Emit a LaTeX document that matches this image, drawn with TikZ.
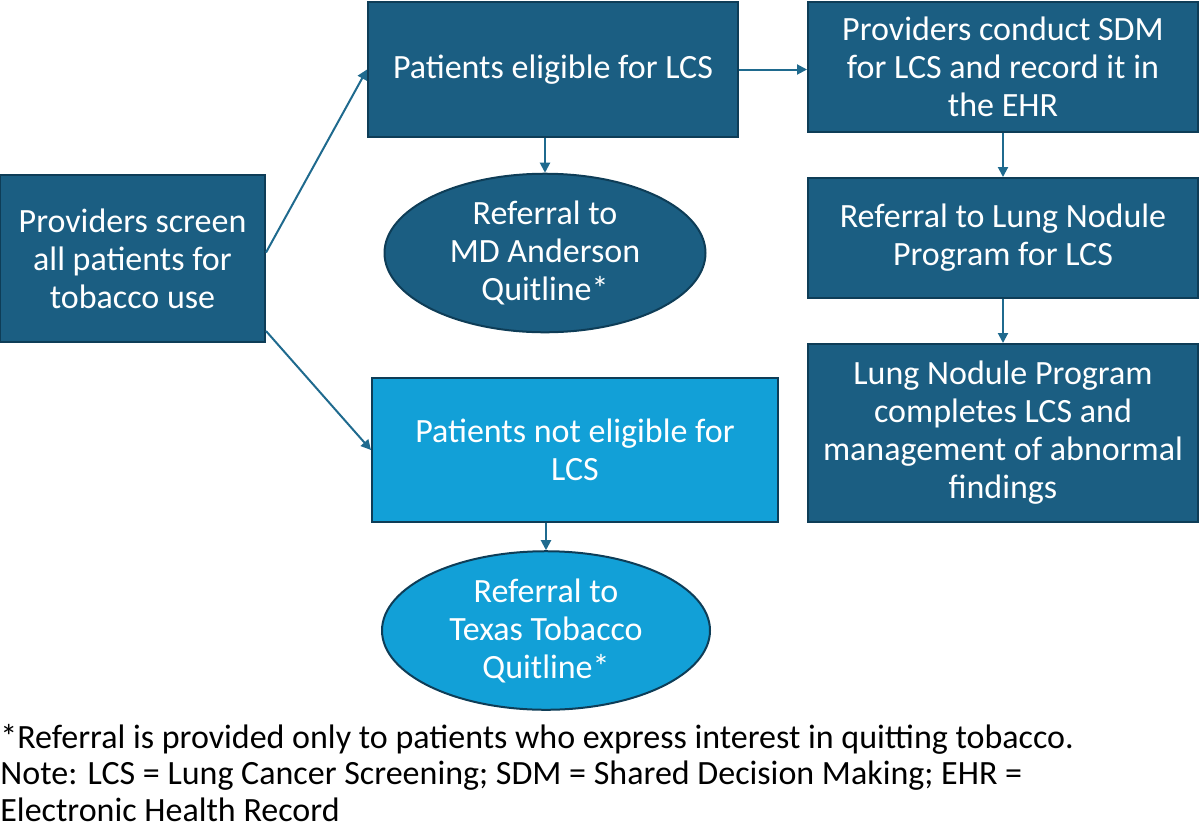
\documentclass[tikz,border=0pt]{standalone}
\usepackage{fontspec}
\setmainfont{Carlito}
\usetikzlibrary{arrows.meta,shapes.geometric}
\definecolor{DarkBox}  {HTML}{1B5E82}
\definecolor{DarkEdge} {HTML}{0E3D57}
\definecolor{LightBox} {HTML}{12A0D7}
\definecolor{FlowArrow}{HTML}{1F6A8E}

\begin{document}
\begin{tikzpicture}[x=0.5pt,y=-0.5pt,
    every node/.style={font=\fontsize{17}{19}\selectfont},
    darkbox/.style={draw=DarkEdge,fill=DarkBox,line width=1pt,text=white,align=center,inner sep=2pt},
    lightbox/.style={darkbox,fill=LightBox},
    darkoval/.style={darkbox,ellipse},
    lightoval/.style={lightbox,ellipse},
    flow/.style={draw=FlowArrow,line width=1pt,-{Triangle[length=5pt,width=5pt]}}]
  \useasboundingbox (0,0) rectangle (1200,831);
  % left column
  \node[darkbox,minimum width=132.5pt,minimum height=83.5pt] (screen) at (132.5,258.5)
    {Providers screen\\all patients for\\tobacco use};
  % middle column
  \node[darkbox,minimum width=185pt,minimum height=67.5pt] (eligible) at (553,69.5)
    {Patients eligible for LCS};
  \node[darkoval,minimum width=160.5pt,minimum height=77pt] (mdquit) at (545,253)
    {Referral to\\MD Anderson\\Quitline*};
  \node[lightbox,minimum width=203pt,minimum height=72pt] (noteligible) at (575,450)
    {Patients not eligible for\\LCS};
  \node[lightoval,minimum width=164pt,minimum height=77.5pt] (txquit) at (546,630.5)
    {Referral to\\Texas Tobacco\\Quitline*};
  % right column
  \node[darkbox,minimum width=195pt,minimum height=65pt] (sdm) at (1003,67)
    {Providers conduct SDM\\for LCS and record it in\\the EHR};
  \node[darkbox,minimum width=195pt,minimum height=60pt] (nodule) at (1003,238)
    {Referral to Lung Nodule\\Program for LCS};
  \node[darkbox,minimum width=195pt,minimum height=89pt] (complete) at (1003,433)
    {Lung Nodule Program\\completes LCS and\\management of abnormal\\findings};
  % footnote
  \node[anchor=north west,align=left,inner sep=0pt,font=\fontsize{17}{18.2}\selectfont] (note) at (0,724)
    {*Referral is provided only to patients who express interest in quitting tobacco.\\
     Note: LCS = Lung Cancer Screening; SDM = Shared Decision Making; EHR =\\
     Electronic Health Record};
  % connectors
  \draw[flow] ([yshift=3pt]screen.east) -- (eligible.west);
  \draw[flow] ([yshift=6pt]screen.south east) -- (noteligible.west);
  \draw[flow] (eligible.east) -- (sdm.west |- eligible.east);
  \draw[flow] (eligible.south -| mdquit.north) -- (mdquit.north);
  \draw[flow] (noteligible.south -| txquit.north) -- (txquit.north);
  \draw[flow] (sdm.south) -- (nodule.north);
  \draw[flow] (nodule.south) -- (complete.north);
\end{tikzpicture}
\end{document}
